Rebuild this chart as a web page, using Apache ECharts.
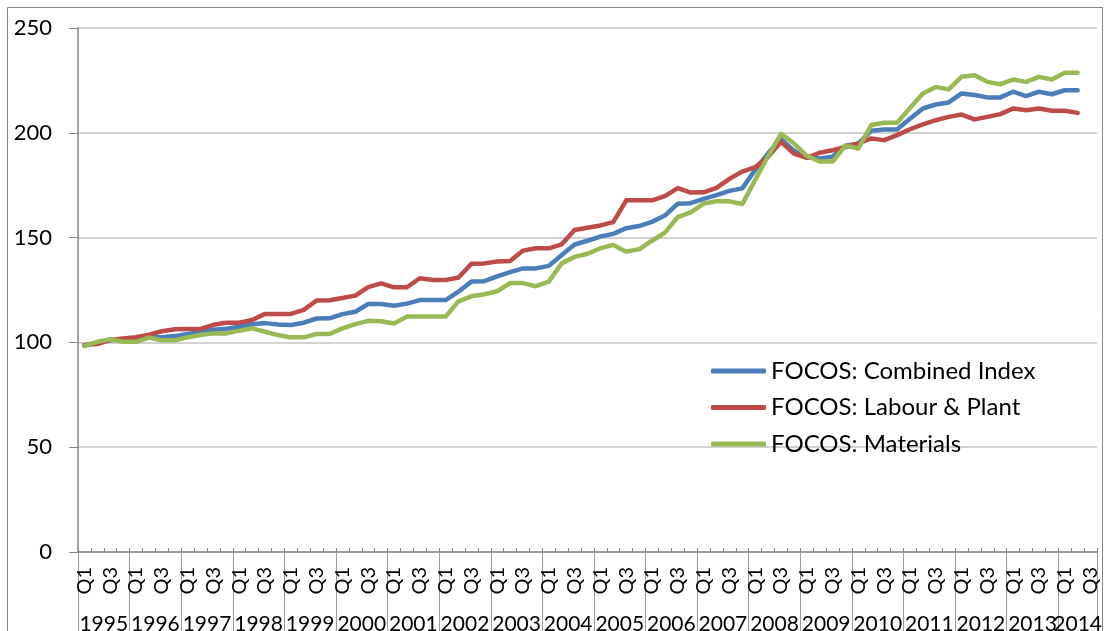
<!DOCTYPE html>
<html>
<head>
<meta charset="utf-8">
<title>FOCOS indices</title>
<script src="https://cdn.jsdelivr.net/npm/echarts@6/dist/echarts.min.js"></script>
<style>
  html, body { margin: 0; padding: 0; background: #ffffff; }
  #chart { width: 1110px; height: 631px; }
</style>
</head>
<body>
<div id="chart"></div>
<script>
// Year groups of the quarterly axis (2014 runs to Q3 only)
const years = ['1995','1996','1997','1998','1999','2000','2001','2002','2003','2004',
               '2005','2006','2007','2008','2009','2010','2011','2012','2013','2014'];
const quarterNames = ['Q1','Q2','Q3','Q4'];
const quartersInLastYear = 3;

// Quarterly index values, 1995 Q1 .. 2014 Q2
const combinedIndex = [
  98.7, 99.8, 101, 101.5, 102, 102.5, 102.5, 103,
  104, 105, 106, 106.5, 107.5, 108.7, 109.2, 108.5,
  108.3, 109.4, 111.4, 111.5, 113.5, 114.6, 118.3, 118.3,
  117.5, 118.5, 120.2, 120.2, 120.2, 124.2, 129, 129.2,
  131.5, 133.5, 135.3, 135.3, 136.5, 141.7, 146.7, 148.5,
  150.5, 151.8, 154.5, 155.5, 157.5, 160.5, 166.2, 166.4,
  168.5, 170.3, 172.3, 173.5, 182.3, 190.2, 197, 191.5,
  188.2, 187.8, 188.6, 193.8, 194.9, 201, 201.6, 201.6,
  206.7, 211.6, 213.5, 214.5, 218.8, 218, 216.9, 216.9,
  219.6, 217.5, 219.6, 218.4, 220.3, 220.3
];
const labourPlant = [
  98.7, 99.2, 101.2, 101.9, 102.5, 103.7, 105.3, 106.3,
  106.4, 106.4, 108.4, 109.4, 109.4, 110.7, 113.6, 113.6,
  113.6, 115.5, 120, 120.1, 121.2, 122.3, 126.4, 128.2,
  126.3, 126.3, 130.6, 129.8, 129.8, 131, 137.5, 137.7,
  138.6, 138.8, 143.8, 144.9, 144.9, 146.8, 153.6, 154.7,
  155.8, 157.4, 167.8, 167.8, 167.8, 169.8, 173.6, 171.5,
  171.6, 173.7, 178, 181.5, 183.6, 188.6, 195.7, 190.1,
  188, 190.5, 191.7, 193.2, 194.9, 197.3, 196.5, 198.9,
  201.7, 204, 206, 207.6, 208.7, 206.4, 207.6, 208.9,
  211.6, 210.8, 211.6, 210.5, 210.5, 209.5
];
const materials = [
  98.2, 100.3, 101.5, 100.3, 100.3, 102.3, 101, 101,
  102.4, 103.5, 104.3, 104.3, 105.6, 106.7, 105.1, 103.5,
  102.4, 102.4, 104, 104, 106.7, 108.7, 110.3, 110.1,
  109, 112.3, 112.3, 112.3, 112.3, 119.6, 122, 123,
  124.4, 128.3, 128.3, 126.8, 129, 137.7, 140.8, 142.3,
  144.9, 146.5, 143.3, 144.4, 148.5, 152.4, 159.8, 162,
  166.2, 167.3, 167.3, 166, 177.5, 188.8, 199.5, 195,
  189, 186.3, 186.3, 193.9, 192.5, 203.7, 204.8, 204.8,
  211.8, 218.8, 221.9, 220.7, 226.7, 227.5, 224.3, 223.2,
  225.4, 224.3, 226.7, 225.4, 228.6, 228.6
];

const seriesNames = ['FOCOS: Combined Index', 'FOCOS: Labour & Plant', 'FOCOS: Materials'];
const seriesColors = ['#4a7ebb', '#be4b48', '#98b954'];

// Category list: one entry per quarter
const quarterLabels = [];
years.forEach(function (y, yi) {
  const n = yi === years.length - 1 ? quartersInLastYear : 4;
  for (let q = 0; q < n; q++) quarterLabels.push(quarterNames[q]);
});
const nQuarters = quarterLabels.length;
const lastYearStart = nQuarters - quartersInLastYear;

// Year caption sits in the middle of its group of quarters
function yearAt(v) {
  if (v < lastYearStart && v % 4 === 2) return years[(v - 2) / 4];
  if (v === lastYearStart + quartersInLastYear / 2) return years[years.length - 1];
  return '';
}

const FONT = 'Lato, "Open Sans", sans-serif';
const AXIS_GREY = '#868686';

const chart = echarts.init(document.getElementById('chart'), null, { renderer: 'canvas' });

chart.setOption({
  animation: false,
  backgroundColor: '#ffffff',
  textStyle: { fontFamily: FONT },
  grid: { left: 78, right: 13, top: 28, bottom: 79, containLabel: false, outerBoundsMode: 'none' },
  legend: {
    orient: 'vertical',
    left: 711,
    top: 359,
    padding: 0,
    itemGap: 12.5,
    itemWidth: 55,
    itemHeight: 5,
    icon: 'roundRect',
    data: seriesNames,
    textStyle: { fontFamily: FONT, fontSize: 24, color: '#000', lineHeight: 24 }
  },
  xAxis: [
    {
      // quarter axis
      type: 'category',
      data: quarterLabels,
      boundaryGap: true,
      position: 'bottom',
      axisLine: { show: true, lineStyle: { color: AXIS_GREY, width: 1.5 } },
      axisTick: { show: true, inside: true, length: 4, interval: 0, lineStyle: { color: AXIS_GREY } },
      axisLabel: { interval: 1, rotate: 90, margin: 15, fontSize: 20, color: '#000', fontFamily: FONT },
      splitLine: { show: false }
    },
    {
      // separators between year groups
      type: 'category',
      data: quarterLabels,
      boundaryGap: true,
      position: 'bottom',
      axisLine: { show: false },
      axisTick: {
        show: true,
        length: 80,
        interval: function (i) { return i % 4 === 0; },
        lineStyle: { color: '#9a9a9a', width: 1 }
      },
      axisLabel: { show: false },
      splitLine: { show: false }
    },
    {
      // year captions, measured in quarters along the same span
      type: 'value',
      min: 0,
      max: nQuarters,
      interval: 0.5,
      position: 'bottom',
      axisLine: { show: false },
      axisTick: { show: false },
      splitLine: { show: false },
      axisLabel: {
        margin: 62,
        fontSize: 21,
        color: '#000',
        fontFamily: FONT,
        hideOverlap: false,
        showMinLabel: true,
        showMaxLabel: true,
        formatter: yearAt
      }
    }
  ],
  yAxis: {
    type: 'value',
    min: 0,
    max: 250,
    interval: 50,
    axisLine: { show: true, lineStyle: { color: AXIS_GREY, width: 1.5 } },
    axisTick: { show: true, length: 9, lineStyle: { color: AXIS_GREY } },
    axisLabel: { margin: 26, fontSize: 22, color: '#000', fontFamily: FONT },
    splitLine: { show: true, lineStyle: { color: '#c3c3c3', width: 1.5 } }
  },
  series: [
    { name: seriesNames[0], data: combinedIndex },
    { name: seriesNames[1], data: labourPlant },
    { name: seriesNames[2], data: materials }
  ].map(function (s, k) {
    return {
      name: s.name,
      type: 'line',
      data: s.data,
      xAxisIndex: 0,
      symbol: 'none',
      smooth: false,
      color: seriesColors[k],
      lineStyle: { color: seriesColors[k], width: 4.5, cap: 'round', join: 'round' },
      emphasis: { disabled: true }
    };
  }),
  graphic: [
    {
      type: 'rect',
      silent: true,
      z: -1,
      shape: { x: 7.5, y: 7.5, width: 1095, height: 700 },
      style: { fill: 'none', stroke: AXIS_GREY, lineWidth: 1 }
    }
  ]
});
</script>
</body>
</html>
